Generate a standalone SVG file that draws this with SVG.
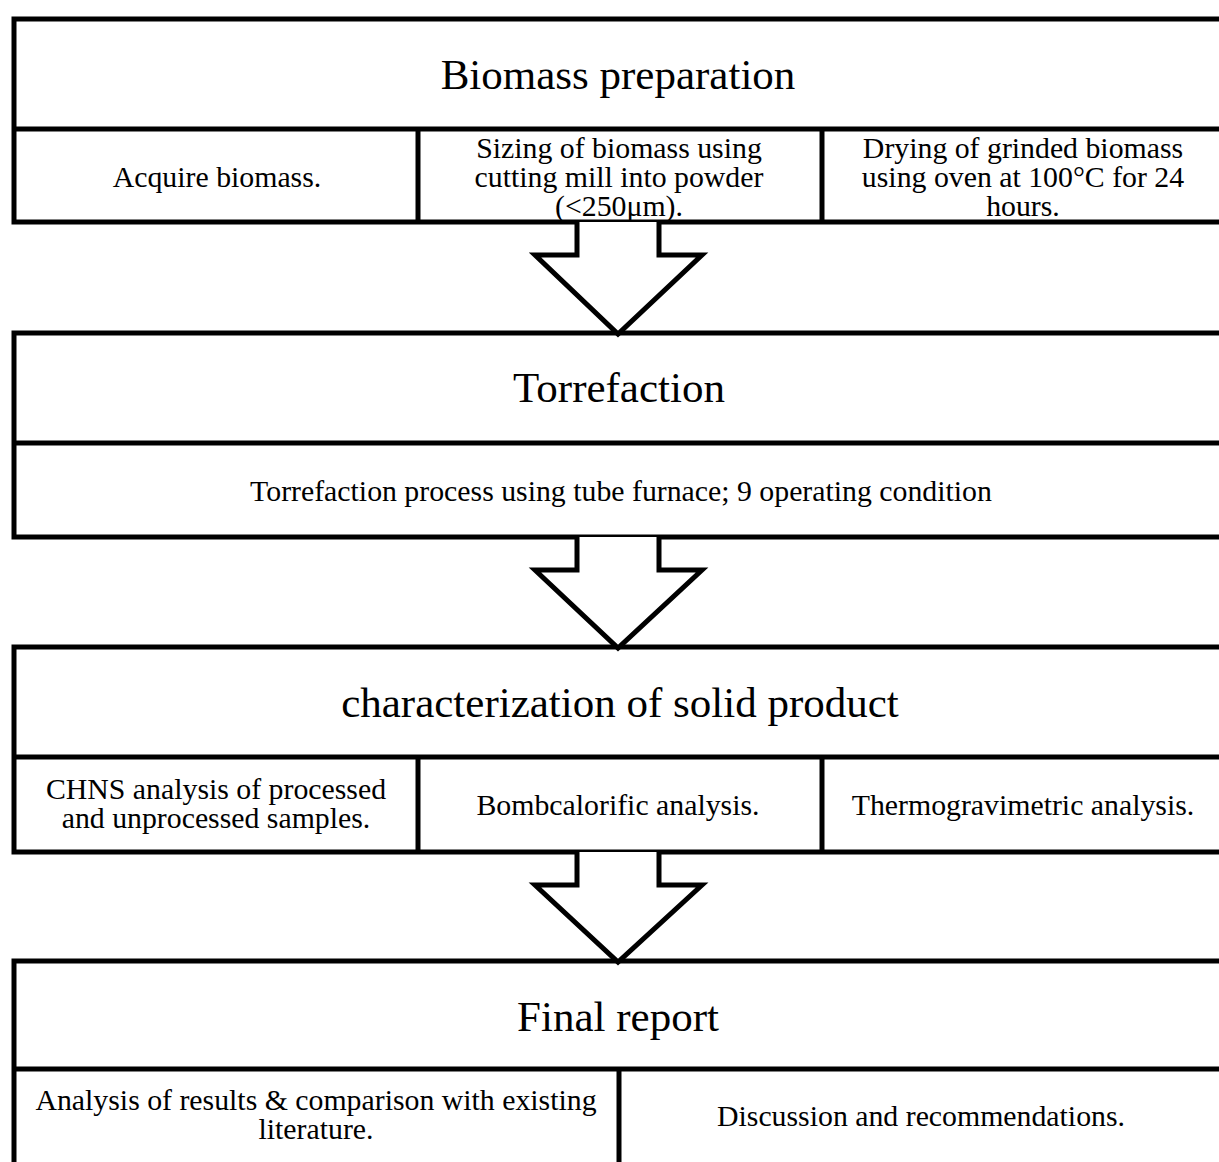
<svg xmlns="http://www.w3.org/2000/svg" width="1219" height="1162" viewBox="0 0 1219 1162">
<style>
.box{fill:#fff;stroke:#000;stroke-width:5}
.ln{stroke:#000;stroke-width:5;fill:none}
.arr{fill:#fff;stroke:#000;stroke-width:5;stroke-linejoin:miter}
text{font-family:"Liberation Serif","Times New Roman",serif;fill:#000;text-anchor:middle}
.t{font-size:43px}
.s{font-size:29.8px}
</style>
<rect width="1219" height="1162" fill="#fff"/>
<g id="node-biomass">
<rect class="box" x="14" y="19" width="1230" height="203"/>
<line class="ln" x1="14" y1="129" x2="1244" y2="129"/>
<line class="ln" x1="418" y1="129" x2="418" y2="222"/>
<line class="ln" x1="822" y1="129" x2="822" y2="222"/>
<text class="t" x="618" y="89">Biomass preparation</text>
<text class="s" x="217" y="187">Acquire biomass.</text>
<text class="s" x="619" y="158">Sizing of biomass using</text>
<text class="s" x="619" y="187">cutting mill into powder</text>
<text class="s" x="619" y="216">(&lt;250μm).</text>
<text class="s" x="1023" y="158">Drying of grinded biomass</text>
<text class="s" x="1023" y="187">using oven at 100°C for 24</text>
<text class="s" x="1023" y="216">hours.</text>
</g>
<g id="node-torrefaction">
<rect class="box" x="14" y="333" width="1230" height="204"/>
<line class="ln" x1="14" y1="443" x2="1244" y2="443"/>
<text class="t" x="619" y="402">Torrefaction</text>
<text class="s" x="621" y="501">Torrefaction process using tube furnace; 9 operating condition</text>
</g>
<g id="node-characterization">
<rect class="box" x="14" y="647" width="1230" height="205"/>
<line class="ln" x1="14" y1="757" x2="1244" y2="757"/>
<line class="ln" x1="418" y1="757" x2="418" y2="852"/>
<line class="ln" x1="822" y1="757" x2="822" y2="852"/>
<text class="t" x="620" y="717">characterization of solid product</text>
<text class="s" x="216" y="799">CHNS analysis of processed</text>
<text class="s" x="216" y="828">and unprocessed samples.</text>
<text class="s" x="618" y="815">Bombcalorific analysis.</text>
<text class="s" x="1023" y="815">Thermogravimetric analysis.</text>
</g>
<g id="node-final">
<rect class="box" x="14" y="961" width="1230" height="230"/>
<line class="ln" x1="14" y1="1069" x2="1244" y2="1069"/>
<line class="ln" x1="619" y1="1069" x2="619" y2="1191"/>
<text class="t" x="618" y="1031">Final report</text>
<text class="s" x="316" y="1110">Analysis of results &amp; comparison with existing</text>
<text class="s" x="316" y="1139">literature.</text>
<text class="s" x="921" y="1126">Discussion and recommendations.</text>
</g>
<g id="connectors">
<polyline class="arr" points="577,222 577,255 535,255 618,334 702,255 659,255 659,222"/>
<polyline class="arr" points="577,537 577,570 535,570 618,648 702,570 659,570 659,537"/>
<polyline class="arr" points="577,852 577,885 535,885 618,962 702,885 659,885 659,852"/>
</g>
</svg>
